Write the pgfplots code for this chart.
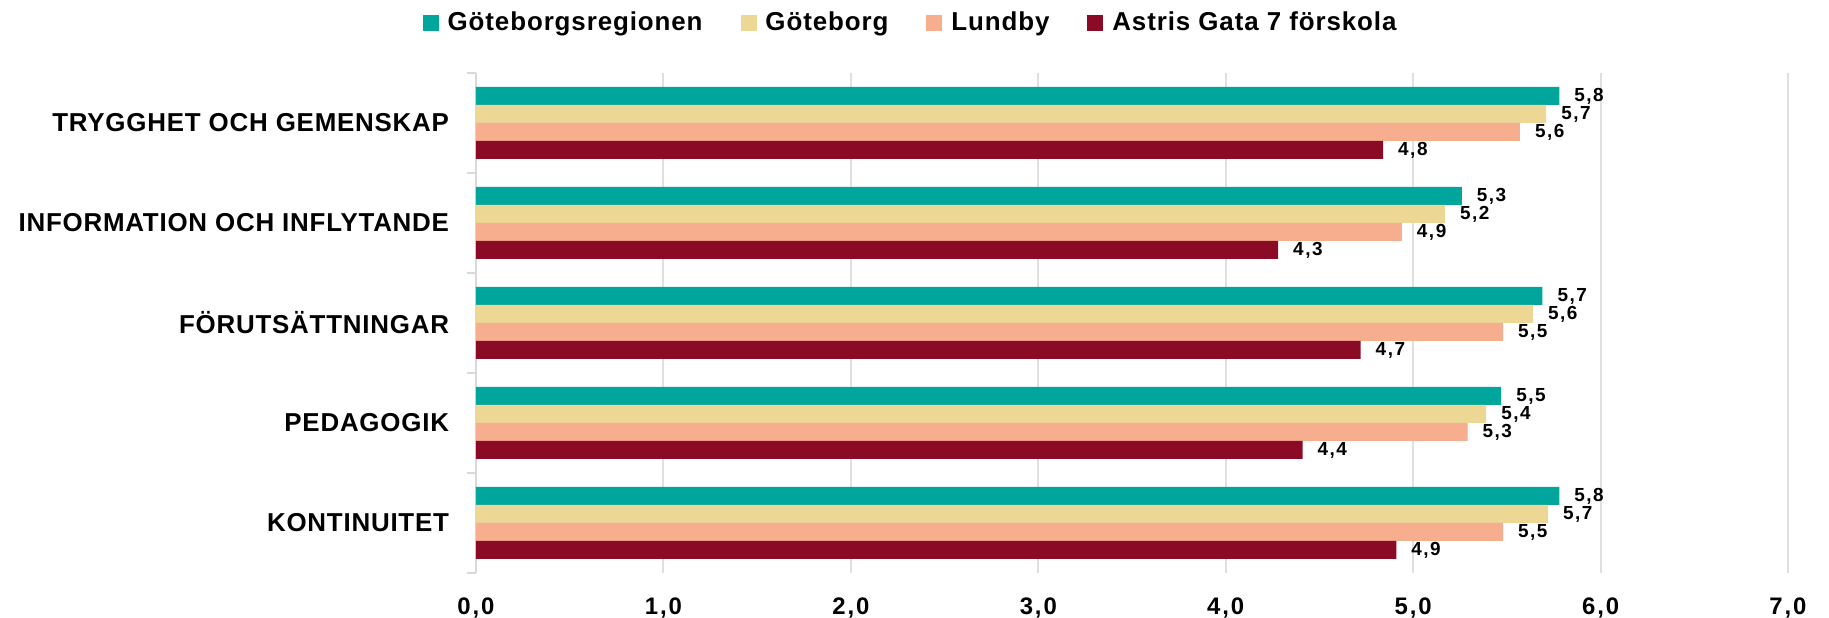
\documentclass[border=0pt]{standalone}
\usepackage{fontspec}
\setmainfont{Liberation Sans}
\newfontfamily\spacedA{Liberation Sans}[LetterSpace=8]
\newfontfamily\spacedB{Liberation Sans}[LetterSpace=3.5]
\newfontfamily\spacedC{Liberation Sans}[LetterSpace=3]
\usepackage{pgfplots}
\pgfplotsset{compat=1.18}
\definecolor{cA}{HTML}{00A59C}
\definecolor{cB}{HTML}{ECD795}
\definecolor{cC}{HTML}{F6AE8F}
\definecolor{cD}{HTML}{8B0A25}
\begin{document}
\begin{tikzpicture}
\begin{axis}[name=ax, scale only axis, width=656bp, height=250bp,
 xbar, bar width=9bp,
 xmin=0, xmax=7, ymin=-0.5, ymax=4.5,
 xtick={0,...,7}, ytick={0,...,4},
 yticklabels={KONTINUITET, PEDAGOGIK, FÖRUTSÄTTNINGAR, INFORMATION OCH INFLYTANDE, TRYGGHET OCH GEMENSKAP},
 minor ytick={-0.5,0.5,...,4.5},
 major tick length=0pt, minor tick length=4.5bp, tick align=outside,
 minor tick style={draw=black!15, line width=1bp},
 axis x line*=bottom, axis y line*=left,
 x axis line style={draw=none},
 y axis line style={draw=black!15, line width=1bp},
 xmajorgrids, grid style={black!12, line width=1bp},
 /pgf/number format/fixed, /pgf/number format/fixed zerofill,
 /pgf/number format/precision=1, /pgf/number format/use comma,
 /pgf/number format/assume math mode=true,
 xticklabel style={font=\spacedA\bfseries\fontsize{12}{14}\selectfont, yshift=-9bp},
 yticklabel style={font=\spacedC\bfseries\fontsize{13}{15}\selectfont, xshift=-10bp},
 nodes near coords,
 every node near coord/.append style={font=\spacedA\bfseries\fontsize{9.5}{11}\selectfont, anchor=west, xshift=4bp, text=black},
 legend columns=4,
 legend style={draw=none, at={(0.332,1.1)}, anchor=center,
   font=\spacedB\bfseries\fontsize{13}{15}\selectfont,
   /tikz/every odd column/.append style={column sep=2.5bp},
   /tikz/every even column/.append style={column sep=17bp}},
 legend image code/.code={\fill[#1,draw=none] (0bp,-4bp) rectangle (8bp,4bp);},
]
\addplot[fill=cA, draw=none, bar shift=13.5bp] coordinates {(5.78,4) (5.26,3) (5.69,2) (5.47,1) (5.78,0)};
\addplot[fill=cB, draw=none, bar shift=4.5bp] coordinates {(5.71,4) (5.17,3) (5.64,2) (5.39,1) (5.72,0)};
\addplot[fill=cC, draw=none, bar shift=-4.5bp] coordinates {(5.57,4) (4.94,3) (5.48,2) (5.29,1) (5.48,0)};
\addplot[fill=cD, draw=none, bar shift=-13.5bp] coordinates {(4.84,4) (4.28,3) (4.72,2) (4.41,1) (4.91,0)};
\legend{Göteborgsregionen, Göteborg, Lundby, Astris Gata 7 förskola}
\end{axis}
\pgfresetboundingbox
\path ([shift={(-238bp,-22.5bp)}]ax.south west) rectangle ([shift={(20.5bp,36.5bp)}]ax.north east);
\end{tikzpicture}
\end{document}
